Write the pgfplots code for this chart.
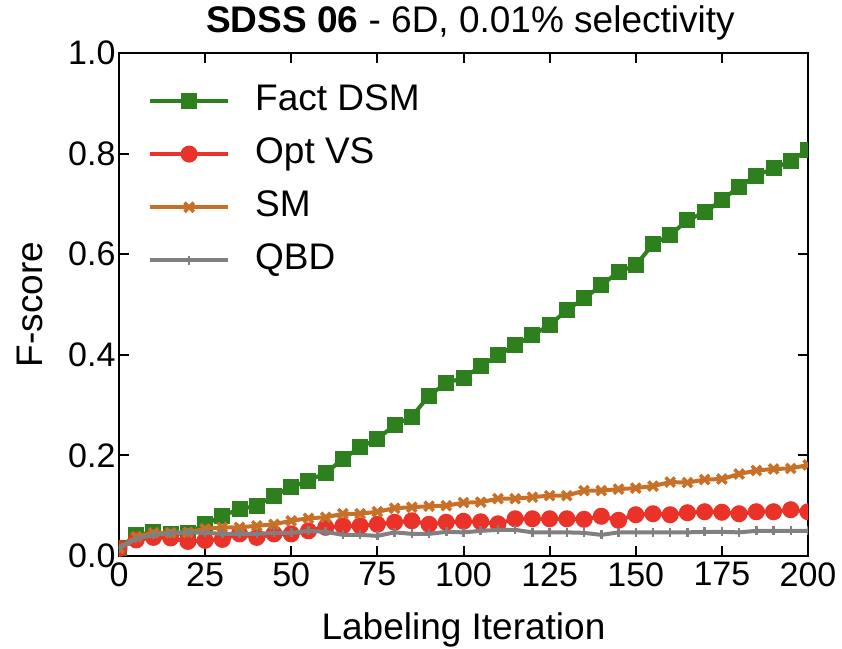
\documentclass[border=0pt]{standalone}
\usepackage{fontspec}
\setmainfont{Liberation Sans}
\usepackage{pgfplots}
\usepackage{pgfplotstable}
\pgfplotsset{compat=1.18}

\definecolor{cgreen}{RGB}{46,128,30}
\definecolor{cred}{RGB}{234,50,40}
\definecolor{corange}{RGB}{200,112,40}
\definecolor{cgray}{RGB}{128,128,128}

\pgfplotstableread{
x   green  red    orange gray
0   0.015  0.015  0.015  0.015
5   0.042  0.032  0.038  0.034
10  0.047  0.037  0.046  0.042
15  0.044  0.036  0.046  0.045
20  0.045  0.029  0.047  0.047
25  0.063  0.031  0.054  0.046
30  0.080  0.033  0.057  0.044
35  0.093  0.044  0.057  0.044
40  0.100  0.037  0.060  0.044
45  0.120  0.044  0.063  0.046
50  0.137  0.044  0.070  0.046
55  0.150  0.050  0.075  0.050
60  0.165  0.057  0.077  0.048
65  0.193  0.060  0.084  0.042
70  0.216  0.060  0.084  0.042
75  0.233  0.063  0.088  0.040
80  0.260  0.067  0.095  0.047
85  0.277  0.070  0.097  0.044
90  0.319  0.063  0.099  0.044
95  0.344  0.067  0.100  0.048
100 0.354  0.069  0.106  0.047
105 0.377  0.068  0.107  0.050
110 0.399  0.064  0.114  0.052
115 0.419  0.074  0.114  0.052
120 0.439  0.074  0.117  0.047
125 0.459  0.074  0.120  0.047
130 0.489  0.074  0.120  0.047
135 0.512  0.073  0.130  0.046
140 0.538  0.079  0.130  0.042
145 0.565  0.071  0.133  0.047
150 0.578  0.082  0.135  0.047
155 0.620  0.084  0.139  0.047
160 0.638  0.082  0.147  0.047
165 0.668  0.086  0.146  0.047
170 0.683  0.088  0.152  0.048
175 0.708  0.087  0.153  0.048
180 0.734  0.084  0.163  0.047
185 0.756  0.088  0.170  0.050
190 0.771  0.088  0.173  0.050
195 0.785  0.092  0.174  0.050
200 0.808  0.088  0.181  0.050
}\datatable

\begin{document}
\begin{tikzpicture}
\useasboundingbox (-119pt,-92pt) rectangle (723pt,556pt);
\begin{axis}[
  scale only axis,
  width=689pt, height=503pt,
  xmin=0, xmax=200, ymin=0, ymax=1,
  xtick={0,25,...,200},
  ytick={0,0.2,0.4,0.6,0.8,1.0},
  yticklabel style={/pgf/number format/.cd, fixed, fixed zerofill, precision=1},
  xticklabel style={yshift=-3pt},
  /pgf/number format/assume math mode=true,
  tick label style={font=\fontsize{34}{40}\selectfont},
  label style={font=\fontsize{37}{44}\selectfont},
  tick align=inside,
  major tick length=10pt,
  every tick/.style={black, line width=2pt},
  axis line style={line width=2pt},
  xlabel={Labeling Iteration},
  ylabel={F-score},
  xlabel style={at={(axis description cs:0.5,-0.147)}, anchor=center},
  ylabel style={at={(axis description cs:-0.129,0.5)}, anchor=center},
  title={\textbf{SDSS 06} - 6D, 0.01\% selectivity},
  title style={font=\fontsize{37}{42}\selectfont, at={(axis description cs:0.51,1.047)}, anchor=center},
  clip marker paths=true,
  legend cell align=left,
  legend image code/.code={\draw[mark repeat=2,mark phase=2] plot coordinates {(0pt,0pt)(39pt,0pt)(78pt,0pt)};},
  legend style={at={(rel axis cs:0.042,0.94)}, anchor=north west, draw=none, fill=none,
    inner sep=0pt, row sep=18.2pt, column sep=25pt,
    font=\fontsize{37}{44}\selectfont,
    nodes={inner sep=0pt, text height=27pt, text depth=8pt}},
]
\addplot[cgreen, line width=4pt, mark=square*, mark size=6pt, mark options={solid}] table[x=x,y=green] {\datatable};
\addlegendentry{Fact DSM}
\addplot[cred, line width=4pt, mark=*, mark size=6.5pt, mark options={solid}] table[x=x,y=red] {\datatable};
\addlegendentry{Opt VS}
\addplot[corange, line width=4pt, mark=x, mark size=6.5pt, mark options={solid, line width=3.5pt}] table[x=x,y=orange] {\datatable};
\addlegendentry{SM}
\addplot[cgray, line width=4pt, mark=+, mark size=4.5pt, mark options={solid, line width=2.5pt}] table[x=x,y=gray] {\datatable};
\addlegendentry{QBD}
\end{axis}
\end{tikzpicture}
\end{document}
